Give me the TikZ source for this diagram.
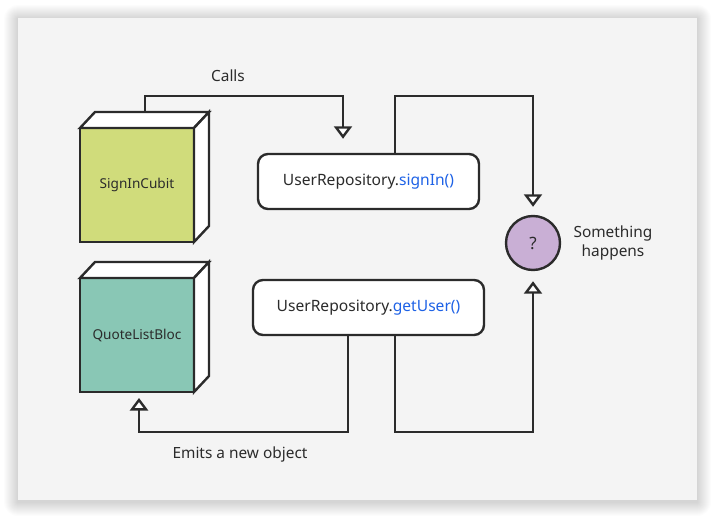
\documentclass[tikz,border=0pt]{standalone}
\usepackage{fontspec}
\setmainfont{Noto Sans}
\usetikzlibrary{arrows.meta}

\definecolor{ink}{HTML}{2B2B2B}
\definecolor{panel}{HTML}{F4F4F4}
\definecolor{cubitlime}{HTML}{D0DC7B}
\definecolor{blocgreen}{HTML}{89C7B5}
\definecolor{qmauve}{HTML}{C9AFD5}
\definecolor{codeblue}{HTML}{1E62E6}

\tikzset{
  cubeface/.style={rectangle, draw, outer sep=0pt, minimum width=114pt, minimum height=114pt, font=\fontsize{13.6}{16}\selectfont},
  sideface/.style={draw, fill=white, line join=miter},
  codebox/.style={rectangle, draw, fill=white, rounded corners=10pt, minimum height=55pt, font=\fontsize{15.6}{18}\selectfont},
  flow/.style={-{Triangle[width=18pt, length=12.5pt, fill=white]}},
  note/.style={font=\fontsize{15.4}{19}\selectfont}
}

\begin{document}
\begin{tikzpicture}[x=1pt, y=-1pt, line width=2.4pt, color=ink]
\useasboundingbox (0,0) rectangle (715,519);
\fill[white] (0,0) rectangle (715,519);
\foreach \i in {1,...,14}
  \fill[black, opacity=0.011, rounded corners=\i pt] (18-\i,19-\i) rectangle (697+\i,502+\i);
\fill[panel] (18,18) rectangle (697,500);

\node (sic) at (137,185) [cubeface, fill=cubitlime] {SignInCubit};
\draw[sideface] (sic.north west) -- ++(15,-16) -- ++(114,0) -- (sic.north east) -- cycle;
\draw[sideface] (sic.north east) -- ++(15,-16) -- ++(0,114) -- (sic.south east) -- cycle;

\node (qlb) at (137,335) [cubeface, fill=blocgreen] {QuoteListBloc};
\draw[sideface] (qlb.north west) -- ++(15,-16) -- ++(114,0) -- (qlb.north east) -- cycle;
\draw[sideface] (qlb.north east) -- ++(15,-16) -- ++(0,114) -- (qlb.south east) -- cycle;

\node (signin) at (368.5,181.5) [codebox, minimum width=221pt] {UserRepository.\textcolor{codeblue}{signIn()}};
\node (getuser) at (368.5,307.5) [codebox, minimum width=231pt] {UserRepository.\textcolor{codeblue}{getUser()}};

\node (q) at (533,243) [circle, draw, fill=qmauve, minimum size=54pt, font=\fontsize{17}{19}\selectfont] {?};
\node (happens) at (613,243) [note, align=center] {Something\\happens};

\node (calls) at (228,76) [note] {Calls};
\node (emits) at (240,454) [note] {Emits a new object};

\coordinate (callsbend) at (343,96);
\coordinate (rightbend) at (533,96);
\coordinate (emitbend) at (139,432);

\draw[flow, shorten >=14pt] ([shift={(8,-16)}]sic.north) |- (callsbend) -- (callsbend |- signin.north);
\draw[flow, shorten >=8pt] ([xshift=26.5pt]signin.north) |- (rightbend) -- (q.north);
\draw[flow, shorten >=6pt] ([xshift=-20.5pt]getuser.south) |- (emitbend) -- (emitbend |- qlb.south);
\draw[flow, shorten >=10pt] ([xshift=26.5pt]getuser.south) |- (q.south |- emitbend) -- (q.south);

\end{tikzpicture}
\end{document}
